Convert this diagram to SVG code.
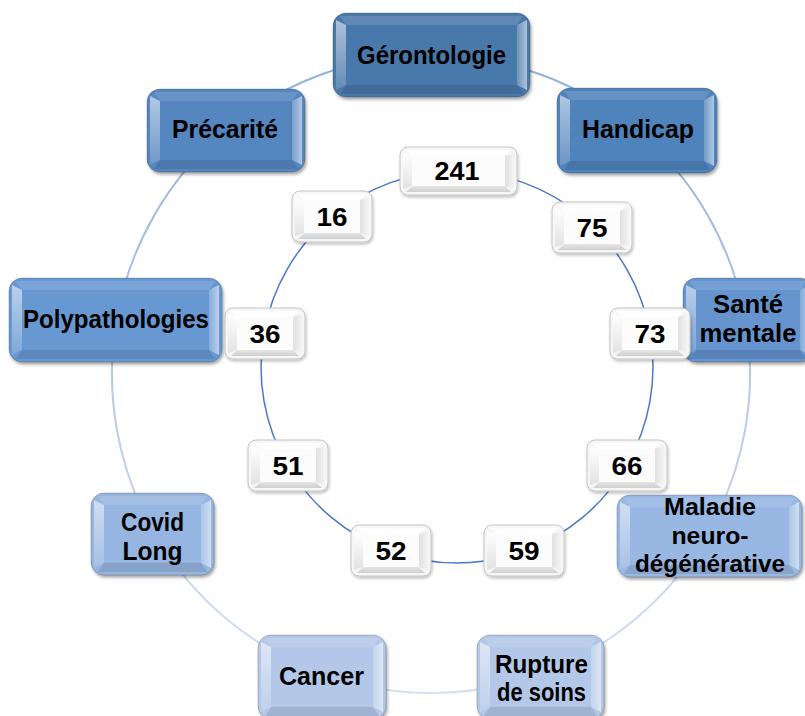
<svg xmlns="http://www.w3.org/2000/svg" xmlns:xlink="http://www.w3.org/1999/xlink" width="805" height="716" viewBox="0 0 805 716">
<style>
.lbl{font-family:"Liberation Sans",Arial,sans-serif;font-weight:bold;font-size:26px;fill:#000;text-anchor:middle}
.sm{font-size:24px}
.num{font-family:"Liberation Sans",Arial,sans-serif;font-weight:bold;font-size:26px;fill:#000;text-anchor:middle}
.outer{fill:none;stroke:url(#gOuter);stroke-width:2}
.inner{fill:none;stroke:#4a78c8;stroke-width:1.5}
.base{stroke:rgba(0,0,0,0.18);stroke-width:1;filter:url(#sh)}
.bl{fill:url(#gL)}
.br{fill:url(#gR)}
.bt{fill:#fff;fill-opacity:0.12}
.bb{fill:#000;fill-opacity:0.10}
.nbase{fill:#f6f6f6;stroke:#c4c4c4;stroke-width:1;filter:url(#sh2)}
.nl{fill:url(#nL)}
.nr{fill:url(#nR)}
.nt{fill:#fff}
.nb{fill:url(#nB)}
.face{fill:#fcfcfc}
</style>
<defs>
<filter id="sh" x="-10%" y="-10%" width="125%" height="135%">
<feDropShadow dx="1.5" dy="2.5" stdDeviation="1.8" flood-color="#000" flood-opacity="0.35"/>
</filter>
<filter id="sh2" x="-10%" y="-10%" width="125%" height="135%">
<feDropShadow dx="1" dy="2" stdDeviation="1.5" flood-color="#000" flood-opacity="0.25"/>
</filter>
<linearGradient id="gOuter" gradientUnits="userSpaceOnUse" x1="0" y1="55" x2="0" y2="690">
<stop offset="0" stop-color="#8db0dc"/>
<stop offset="1" stop-color="#d6e1ef"/>
</linearGradient>
<linearGradient id="gL" x1="0" y1="0" x2="0" y2="1">
<stop offset="0" stop-color="#fff" stop-opacity="0.55"/>
<stop offset="1" stop-color="#fff" stop-opacity="0.15"/>
</linearGradient>
<linearGradient id="gR" x1="0" y1="0" x2="1" y2="0">
<stop offset="0" stop-color="#fff" stop-opacity="0.2"/>
<stop offset="1" stop-color="#fff" stop-opacity="0.55"/>
</linearGradient>
<linearGradient id="nL" x1="0" y1="0" x2="0" y2="1">
<stop offset="0" stop-color="#ffffff"/>
<stop offset="1" stop-color="#e2e2e2"/>
</linearGradient>
<linearGradient id="nR" x1="0" y1="0" x2="1" y2="0">
<stop offset="0" stop-color="#e0e0e0"/>
<stop offset="1" stop-color="#f4f4f4"/>
</linearGradient>
<linearGradient id="nB" x1="0" y1="0" x2="0" y2="1">
<stop offset="0" stop-color="#e6e6e6"/>
<stop offset="1" stop-color="#cfcfcf"/>
</linearGradient>
<g id="numbox">
<rect class="nbase" x="0" y="0" width="80" height="51" rx="8"/>
<rect class="face" x="12" y="9" width="56" height="33"/>
<polygon class="nt" points="6,3 74,3 68,9 12,9"/>
<polygon class="nb" points="6,48 74,48 68,42 12,42"/>
<polygon class="nl" points="3,6 12,9 12,42 3,45"/>
<polygon class="nr" points="77,6 68,9 68,42 77,45"/>
</g>
</defs>
<rect width="805" height="716" fill="#fff"/>

<g id="connectors">
<g id="outer-ring">
<path class="outer" d="M431,55 A319,319 0 0 1 636,129.6"/>
<path class="outer" d="M636,129.6 A319,319 0 0 1 745.2,318.6"/>
<path class="outer" d="M745.2,318.6 A319,319 0 0 1 707.3,533.5"/>
<path class="outer" d="M707.3,533.5 A319,319 0 0 1 540.1,673.8"/>
<path class="outer" d="M540.1,673.8 A319,319 0 0 1 321.9,673.8"/>
<path class="outer" d="M321.9,673.8 A319,319 0 0 1 154.7,533.5"/>
<path class="outer" d="M154.7,533.5 A319,319 0 0 1 116.8,318.6"/>
<path class="outer" d="M116.8,318.6 A319,319 0 0 1 226,129.6"/>
<path class="outer" d="M226,129.6 A319,319 0 0 1 431,55"/>
</g>
<g id="inner-ring">
<path class="inner" d="M457,171 A196,196 0 0 1 583,216.9"/>
<path class="inner" d="M583,216.9 A196,196 0 0 1 650,333"/>
<path class="inner" d="M650,333 A196,196 0 0 1 626.7,465"/>
<path class="inner" d="M626.7,465 A196,196 0 0 1 524,551.2"/>
<path class="inner" d="M524,551.2 A196,196 0 0 1 390,551.2"/>
<path class="inner" d="M390,551.2 A196,196 0 0 1 287.3,465"/>
<path class="inner" d="M287.3,465 A196,196 0 0 1 264,333"/>
<path class="inner" d="M264,333 A196,196 0 0 1 331,216.9"/>
<path class="inner" d="M331,216.9 A196,196 0 0 1 457,171"/>
</g>
</g>

<g id="gerontologie" transform="translate(333,13)">
<rect class="base" width="197" height="84" rx="13" fill="#4878aa"/>
<polygon class="bt" points="7,3 190,3 184,12 13,12"/>
<polygon class="bb" points="7,81 190,81 184,72 13,72"/>
<polygon class="bl" points="3,7 13,12 13,72 3,77"/>
<polygon class="br" points="194,7 184,12 184,72 194,77"/>
<text class="lbl" x="98.5" y="51" textLength="149" lengthAdjust="spacingAndGlyphs">Gérontologie</text>
</g>

<g id="handicap" transform="translate(557,88)">
<rect class="base" width="160" height="85" rx="13" fill="#5083bb"/>
<polygon class="bt" points="7,3 153,3 147,12 13,12"/>
<polygon class="bb" points="7,82 153,82 147,73 13,73"/>
<polygon class="bl" points="3,7 13,12 13,73 3,78"/>
<polygon class="br" points="157,7 147,12 147,73 157,78"/>
<text class="lbl" x="81" y="50" textLength="112" lengthAdjust="spacingAndGlyphs">Handicap</text>
</g>

<g id="precarite" transform="translate(147,89)">
<rect class="base" width="158" height="83" rx="13" fill="#5586c0"/>
<polygon class="bt" points="7,3 151,3 145,12 13,12"/>
<polygon class="bb" points="7,80 151,80 145,71 13,71"/>
<polygon class="bl" points="3,7 13,12 13,71 3,76"/>
<polygon class="br" points="155,7 145,12 145,71 155,76"/>
<text class="lbl" x="78" y="48.5" textLength="106" lengthAdjust="spacingAndGlyphs">Précarité</text>
</g>

<g id="polypathologies" transform="translate(9,278)">
<rect class="base" width="213" height="84" rx="13" fill="#6798d2"/>
<polygon class="bt" points="7,3 206,3 200,12 13,12"/>
<polygon class="bb" points="7,81 206,81 200,72 13,72"/>
<polygon class="bl" points="3,7 13,12 13,72 3,77"/>
<polygon class="br" points="210,7 200,12 200,72 210,77"/>
<text class="lbl" x="107" y="50" textLength="186" lengthAdjust="spacingAndGlyphs">Polypathologies</text>
</g>

<g id="sante-mentale" transform="translate(683,278)">
<rect class="base" width="130" height="84" rx="13" fill="#6594ce"/>
<polygon class="bt" points="7,3 123,3 117,12 13,12"/>
<polygon class="bb" points="7,81 123,81 117,72 13,72"/>
<polygon class="bl" points="3,7 13,12 13,72 3,77"/>
<polygon class="br" points="127,7 117,12 117,72 127,77"/>
<text class="lbl" x="65" y="35" textLength="70" lengthAdjust="spacingAndGlyphs">Santé</text>
<text class="lbl" x="65" y="64" textLength="97" lengthAdjust="spacingAndGlyphs">mentale</text>
</g>

<g id="maladie" transform="translate(617,495)">
<rect class="base" width="185" height="82" rx="13" fill="#98b7e2"/>
<polygon class="bt" points="7,3 178,3 172,12 13,12"/>
<polygon class="bb" points="7,79 178,79 172,70 13,70"/>
<polygon class="bl" points="3,7 13,12 13,70 3,75"/>
<polygon class="br" points="182,7 172,12 172,70 182,75"/>
<text class="lbl sm" x="93" y="20" textLength="92" lengthAdjust="spacingAndGlyphs">Maladie</text>
<text class="lbl sm" x="93" y="48.5" textLength="77" lengthAdjust="spacingAndGlyphs">neuro-</text>
<text class="lbl sm" x="93" y="77" textLength="150" lengthAdjust="spacingAndGlyphs">dégénérative</text>
</g>

<g id="rupture" transform="translate(477,635)">
<rect class="base" width="127" height="84" rx="13" fill="#b3c8e8"/>
<polygon class="bt" points="7,3 120,3 114,12 13,12"/>
<polygon class="bb" points="7,81 120,81 114,72 13,72"/>
<polygon class="bl" points="3,7 13,12 13,72 3,77"/>
<polygon class="br" points="124,7 114,12 114,72 124,77"/>
<text class="lbl" x="64.5" y="38" textLength="93" lengthAdjust="spacingAndGlyphs">Rupture</text>
<text class="lbl" x="64.5" y="66" textLength="89" lengthAdjust="spacingAndGlyphs">de soins</text>
</g>

<g id="cancer" transform="translate(258,635)">
<rect class="base" width="128" height="84" rx="13" fill="#b3c8e8"/>
<polygon class="bt" points="7,3 121,3 115,12 13,12"/>
<polygon class="bb" points="7,81 121,81 115,72 13,72"/>
<polygon class="bl" points="3,7 13,12 13,72 3,77"/>
<polygon class="br" points="125,7 115,12 115,72 125,77"/>
<text class="lbl" x="63.5" y="50" textLength="85" lengthAdjust="spacingAndGlyphs">Cancer</text>
</g>

<g id="covid-long" transform="translate(91,493)">
<rect class="base" width="123" height="82" rx="13" fill="#96b5e0"/>
<polygon class="bt" points="7,3 116,3 110,12 13,12"/>
<polygon class="bb" points="7,79 116,79 110,70 13,70"/>
<polygon class="bl" points="3,7 13,12 13,70 3,75"/>
<polygon class="br" points="120,7 110,12 110,70 120,75"/>
<text class="lbl" x="61.5" y="38" textLength="63" lengthAdjust="spacingAndGlyphs">Covid</text>
<text class="lbl" x="61.5" y="67" textLength="60" lengthAdjust="spacingAndGlyphs">Long</text>
</g>

<g id="n241" transform="translate(400,147)">
<rect class="nbase" width="117" height="48" rx="8"/>
<rect class="face" x="12" y="9" width="93" height="30"/>
<polygon class="nt" points="6,3 111,3 105,9 12,9"/>
<polygon class="nb" points="6,45 111,45 105,39 12,39"/>
<polygon class="nl" points="3,6 12,9 12,39 3,42"/>
<polygon class="nr" points="114,6 105,9 105,39 114,42"/>
<text class="num" x="57" y="32.5" textLength="45" lengthAdjust="spacingAndGlyphs">241</text>
</g>

<g id="n75" transform="translate(552,202)">
<use xlink:href="#numbox" href="#numbox"/>
<text class="num" x="40" y="34.5" textLength="31" lengthAdjust="spacingAndGlyphs">75</text>
</g>

<g id="n73" transform="translate(610,308)">
<use xlink:href="#numbox" href="#numbox"/>
<text class="num" x="40" y="34.5" textLength="31" lengthAdjust="spacingAndGlyphs">73</text>
</g>

<g id="n66" transform="translate(587,440)">
<use xlink:href="#numbox" href="#numbox"/>
<text class="num" x="40" y="34.5" textLength="31" lengthAdjust="spacingAndGlyphs">66</text>
</g>

<g id="n59" transform="translate(484,525)">
<use xlink:href="#numbox" href="#numbox"/>
<text class="num" x="40" y="34.5" textLength="31" lengthAdjust="spacingAndGlyphs">59</text>
</g>

<g id="n52" transform="translate(351,525)">
<use xlink:href="#numbox" href="#numbox"/>
<text class="num" x="40" y="34.5" textLength="31" lengthAdjust="spacingAndGlyphs">52</text>
</g>

<g id="n51" transform="translate(248,440)">
<use xlink:href="#numbox" href="#numbox"/>
<text class="num" x="40" y="34.5" textLength="31" lengthAdjust="spacingAndGlyphs">51</text>
</g>

<g id="n36" transform="translate(225,308)">
<use xlink:href="#numbox" href="#numbox"/>
<text class="num" x="40" y="34.5" textLength="31" lengthAdjust="spacingAndGlyphs">36</text>
</g>

<g id="n16" transform="translate(292,191)">
<use xlink:href="#numbox" href="#numbox"/>
<text class="num" x="40" y="34.5" textLength="31" lengthAdjust="spacingAndGlyphs">16</text>
</g>
</svg>
